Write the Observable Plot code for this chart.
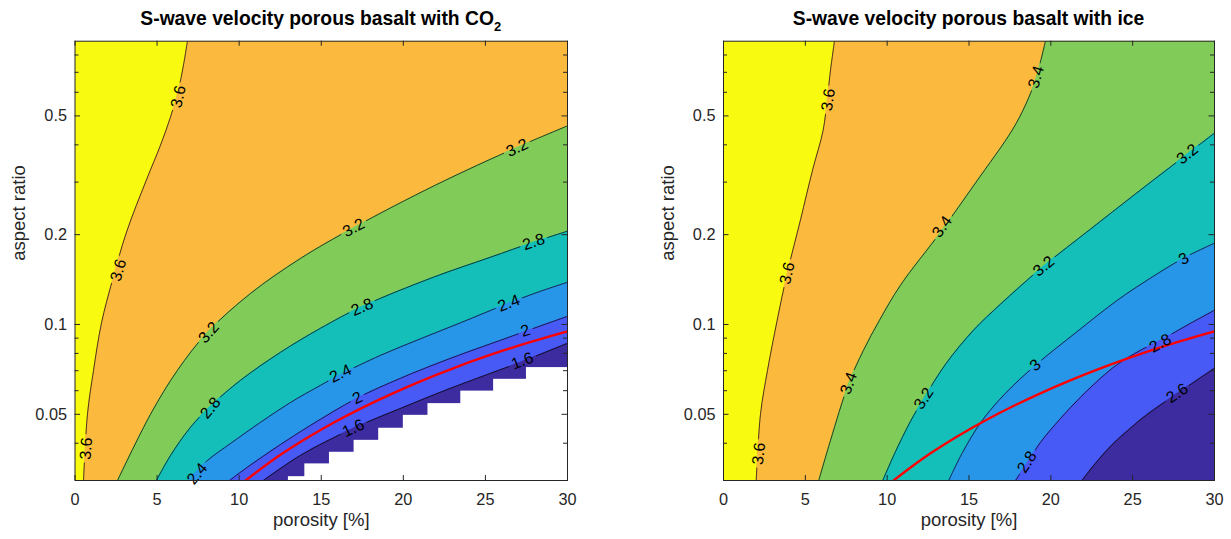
<!DOCTYPE html>
<html><head><meta charset="utf-8">
<script src="https://cdn.jsdelivr.net/npm/d3@7"></script>
<script src="https://cdn.jsdelivr.net/npm/@observablehq/plot@0.6"></script>
<style>
body{margin:0;background:#fff;}
#wrap{position:relative;width:1231px;height:539px;font-family:"Liberation Sans",Arial,Helvetica,sans-serif;}
.panel{position:absolute;top:0;}
.title{position:absolute;top:8.7px;font-weight:bold;font-size:19.3px;line-height:1;text-align:center;color:#000;white-space:nowrap;}
.title .sub{font-size:13px;position:relative;top:6px;}
</style></head><body>
<div id="wrap"></div>
<script>
// ---------- axes ----------
const xDomain = [0, 30];
const yDomain = [0.03, 0.89];
const xTicks = [0, 5, 10, 15, 20, 25, 30];
const yMajorTicks = [0.05, 0.1, 0.2, 0.5];
const yMinorTicks = [0.04, 0.06, 0.07, 0.08, 0.09, 0.3, 0.4, 0.6, 0.7, 0.8];

// band colours, highest velocity first
const bandColors = ["#F8FA0F", "#FBBA3D", "#81CC59", "#14BEB9", "#2896E8", "#485AF5", "#3C2CA0"];

// ---------- left panel: CO2 (contour lines as [porosity %, aspect ratio]) ----------
const co2Levels = [3.6, 3.2, 2.8, 2.4, 2.0, 1.6];
const co2_36 = [[0.52,0.030],[0.76,0.050],[1.13,0.0702],[1.61,0.1009],[2.28,0.1407],[3.14,0.204],[4.35,0.305],[5.21,0.399],[5.82,0.496],[6.30,0.611],[6.61,0.741],[6.85,0.89]];
const co2_32 = [[2.59,0.030],[4.60,0.050],[6.24,0.0702],[8.07,0.0942],[10.69,0.127],[13.73,0.1664],[16.96,0.211],[21.95,0.293],[26.95,0.393],[30,0.463]];
const co2_28 = [[4.96,0.030],[5.82,0.0364],[7.03,0.0452],[8.31,0.0536],[10.08,0.065],[12.52,0.0807],[14.95,0.0971],[17.51,0.1151],[21.83,0.144],[25.30,0.168],[27.92,0.1887],[30,0.2055]];
const co2_24 = [[6.91,0.030],[8.07,0.035],[9.47,0.0399],[11.30,0.047],[13.13,0.0548],[14.95,0.0625],[16.17,0.068],[18.61,0.0788],[21.04,0.0895],[23.48,0.1013],[26.40,0.1178],[28.35,0.1292],[30,0.1385]];
const co2_20 = [[9.41,0.030],[10.69,0.0338],[12.52,0.0396],[14.34,0.0459],[17.20,0.0567],[19.82,0.066],[22.87,0.0770],[25.91,0.0885],[27.44,0.0949],[30,0.1065]];
const co2_16 = [[11.48,0.030],[13.73,0.0364],[16.96,0.0449],[19.82,0.0523],[22.87,0.0611],[27.25,0.0752],[30,0.0865]];
// no-data staircase: start porosity and top aspect ratio of each white step
const co2NanStart = [13.0, 14.0, 15.5, 17.0, 18.5, 20.0, 21.5, 23.5, 25.5, 27.5];
const co2NanTop = [0.0309, 0.0341, 0.0373, 0.0409, 0.0449, 0.0496, 0.0543, 0.0598, 0.0655, 0.0717];
// labels: [porosity, aspect ratio, text, angle]
const co2Labels = [
  [2.65,0.152,"3.6",-74],[6.3,0.58,"3.6",-78],[0.68,0.0384,"3.6",-86],
  [8.15,0.094,"3.2",-48],[16.98,0.211,"3.2",-28],[26.93,0.391,"3.2",-25],
  [8.25,0.0525,"2.8",-50],[17.49,0.1143,"2.8",-24],[27.94,0.189,"2.8",-19],
  [7.44,0.0316,"2.4",-50],[16.17,0.0685,"2.4",-26],[26.42,0.1178,"2.4",-21],
  [17.2,0.0567,"2",-25],[27.44,0.0952,"2",-18],
  [16.96,0.0449,"1.6",-25],[27.25,0.0755,"1.6",-21]
];

// ---------- right panel: ice ----------
const iceLevels = [3.6, 3.4, 3.2, 3.0, 2.8, 2.6];
const ice_36 = [[2.0,0.030],[2.26,0.050],[2.69,0.0702],[3.28,0.1033],[3.89,0.1485],[4.70,0.2237],[5.44,0.329],[6.09,0.448],[6.33,0.565],[6.54,0.713],[6.78,0.89]];
const ice_34 = [[5.82,0.030],[6.54,0.0409],[7.65,0.0635],[8.55,0.0819],[9.53,0.1033],[10.81,0.1353],[13.26,0.2039],[15.39,0.2977],[17.64,0.448],[18.45,0.544],[19.06,0.660],[19.67,0.89]];
const ice_32 = [[9.73,0.030],[10.51,0.0375],[11.42,0.0473],[12.24,0.0565],[13.56,0.0735],[15.27,0.0956],[16.92,0.1169],[19.55,0.1568],[22.42,0.2087],[25.47,0.282],[28.34,0.3725],[30,0.438]];
const ice_30 = [[13.76,0.030],[14.60,0.0372],[15.76,0.0473],[17.23,0.0588],[19.06,0.0730],[21.56,0.0942],[24.07,0.1206],[26.08,0.1429],[28.10,0.1668],[30,0.1873]];
const ice_28 = [[17.84,0.030],[18.57,0.0345],[19.36,0.0402],[20.59,0.0484],[21.81,0.057],[23.03,0.066],[24.07,0.0735],[25.47,0.0819],[26.69,0.0885],[28.53,0.1009],[30,0.1116]];
const ice_26 = [[21.91,0.030],[22.72,0.0342],[23.82,0.0399],[24.86,0.0449],[25.90,0.050],[27.74,0.0588],[30,0.0713]];
const iceLabels = [
  [6.4,0.566,"3.6",-82],[3.89,0.1485,"3.6",-77],[2.16,0.0369,"3.6",-84],
  [19.1,0.675,"3.4",-74],[13.36,0.2125,"3.4",-54],[7.65,0.0635,"3.4",-70],
  [28.34,0.3725,"3.2",-38],[19.57,0.1568,"3.2",-40],[12.24,0.0565,"3.2",-57],
  [28.12,0.166,"3",-30],[19.06,0.073,"3",-40],
  [26.69,0.0865,"2.8",-29],[18.55,0.0346,"2.8",-57],
  [27.72,0.0588,"2.6",-34]
];

// red reference curve (same in both panels)
const redCurve = [[10.39,0.030],[12.65,0.037],[15.88,0.0473],[19.36,0.0588],[23.03,0.0713],[26.88,0.0845],[30,0.0949]];

// ---------- drawing ----------
const wrap = document.getElementById("wrap");
const AXC = "#262626";

// break the contour lines around their labels with an even-odd clip path
function gapLines(svg, id, frame) {
  const ns = "http://www.w3.org/2000/svg";
  const g = svg.querySelector('g[aria-description="clines"]');
  const texts = svg.querySelectorAll('g[aria-description="clabels"] text');
  if (!g) return;
  const inv = g.getScreenCTM().inverse();
  const pad = 3;
  let d = `M${frame.x1},${frame.y1}H${frame.x2}V${frame.y2}H${frame.x1}Z`;
  texts.forEach(t => {
    const bb = t.getBBox();
    const m = inv.multiply(t.getScreenCTM());
    const corners = [[bb.x - pad, bb.y + 2], [bb.x + bb.width + pad, bb.y + 2],
                     [bb.x + bb.width + pad, bb.y + bb.height - 2], [bb.x - pad, bb.y + bb.height - 2]];
    const pts = corners.map(([x, y]) => {
      const p = new DOMPoint(x, y).matrixTransform(m);
      return p.x.toFixed(2) + "," + p.y.toFixed(2);
    });
    d += `M${pts[0]}L${pts[1]}L${pts[2]}L${pts[3]}Z`;
  });
  const defs = document.createElementNS(ns, "defs");
  const cp = document.createElementNS(ns, "clipPath");
  cp.setAttribute("id", id);
  const path = document.createElementNS(ns, "path");
  path.setAttribute("d", d);
  path.setAttribute("clip-rule", "evenodd");
  cp.appendChild(path);
  defs.appendChild(cp);
  svg.appendChild(defs);
  g.setAttribute("clip-path", `url(#${id})`);
}

function makePanel(cfg) {
  const height = 539, marginTop = 40.7, marginBottom = 59;
  const plotW = cfg.width - cfg.marginLeft - cfg.marginRight;
  const plotH = height - marginTop - marginBottom;
  const yTop = yDomain[1];
  const fills = cfg.contours.map((pts, i) => {
    const reachesTop = pts[pts.length - 1][1] >= yTop - 1e-9;
    return reachesTop
      ? Plot.areaX(pts, {y: d => d[1], x1: d => d[0], x2: xDomain[1], fill: bandColors[i + 1], curve: "catmull-rom", clip: true})
      : Plot.areaY(pts, {x: d => d[0], y1: yDomain[0], y2: d => d[1], fill: bandColors[i + 1], curve: "catmull-rom", clip: true});
  });
  const flat = cfg.contours.flatMap((pts, i) => pts.map(d => ({level: cfg.levels[i], p: d[0], ar: d[1]})));
  const marks = [
    Plot.frame({fill: bandColors[0], stroke: null}),
    ...fills
  ];
  if (cfg.nanStart) {
    const cells = cfg.nanStart.map((s, i) => [s, cfg.nanTop[i]]);
    marks.push(Plot.rect(cells, {x1: d => d[0], x2: xDomain[1], y1: yDomain[0], y2: d => d[1], fill: "white", clip: true}));
  }
  marks.push(
    Plot.line(flat, {x: "p", y: "ar", z: "level", stroke: "#000", strokeWidth: 0.7, curve: "catmull-rom", ariaDescription: "clines"}),
    Plot.line(redCurve, {x: d => d[0], y: d => d[1], stroke: "#FF0000", strokeWidth: 2.4, curve: "catmull-rom", clip: true}),
    Plot.text(cfg.labels, {x: d => d[0], y: d => d[1], text: d => d[2], rotate: d => d[3], fontSize: 16, fill: "#000", ariaDescription: "clabels"}),
    Plot.frame({stroke: AXC, strokeWidth: 1}),
    Plot.tickX(xTicks, {x: d => d, insetTop: plotH - 5, stroke: AXC}),
    Plot.tickX(xTicks, {x: d => d, insetBottom: plotH - 5, stroke: AXC}),
    Plot.tickY(yMajorTicks, {y: d => d, insetRight: plotW - 5.5, stroke: AXC}),
    Plot.tickY(yMajorTicks, {y: d => d, insetLeft: plotW - 5.5, stroke: AXC}),
    Plot.tickY(yMinorTicks, {y: d => d, insetRight: plotW - 4, stroke: AXC}),
    Plot.tickY(yMinorTicks, {y: d => d, insetLeft: plotW - 4, stroke: AXC}),
    Plot.axisX(xTicks, {tickSize: 0, tickPadding: 12.7, label: null, tickFormat: d => String(d), fontSize: 16.3}),
    Plot.axisY(yMajorTicks, {anchor: "left", tickSize: 0, tickPadding: 8, label: null, tickFormat: d => String(d), fontSize: 16.3}),
    Plot.text(["porosity [%]"], {frameAnchor: "bottom", dy: 45, lineAnchor: "bottom", fontSize: 18.5, fill: AXC}),
    Plot.text(["aspect ratio"], {frameAnchor: "left", dx: -50, rotate: -90, lineAnchor: "bottom", fontSize: 18.5, fill: AXC})
  );
  const svg = Plot.plot({
    width: cfg.width, height,
    marginLeft: cfg.marginLeft, marginRight: cfg.marginRight, marginTop, marginBottom,
    x: {domain: xDomain},
    y: {type: "log", domain: yDomain},
    style: {fontFamily: '"Liberation Sans", Arial, Helvetica, sans-serif', fontSize: "16.3px", color: AXC, background: "transparent", overflow: "visible"},
    marks
  });
  const div = document.createElement("div");
  div.className = "panel";
  div.style.left = cfg.left + "px";
  div.appendChild(svg);
  wrap.appendChild(div);
  gapLines(svg, cfg.clipId, {x1: cfg.marginLeft, x2: cfg.width - cfg.marginRight, y1: marginTop, y2: height - marginBottom});
  const t = document.createElement("div");
  t.className = "title";
  t.style.left = (cfg.left + cfg.marginLeft) + "px";
  t.style.width = plotW + "px";
  t.innerHTML = cfg.title;
  wrap.appendChild(t);
}

makePanel({
  left: 0, width: 615, marginLeft: 74.5, marginRight: 48,
  levels: co2Levels, contours: [co2_36, co2_32, co2_28, co2_24, co2_20, co2_16],
  labels: co2Labels, nanStart: co2NanStart, nanTop: co2NanTop, clipId: "gap-co2",
  title: 'S-wave velocity porous basalt with CO<span class="sub">2</span>'
});
makePanel({
  left: 615, width: 616, marginLeft: 108, marginRight: 17,
  levels: iceLevels, contours: [ice_36, ice_34, ice_32, ice_30, ice_28, ice_26],
  labels: iceLabels, clipId: "gap-ice",
  title: 'S-wave velocity porous basalt with ice'
});
</script>
</body></html>
